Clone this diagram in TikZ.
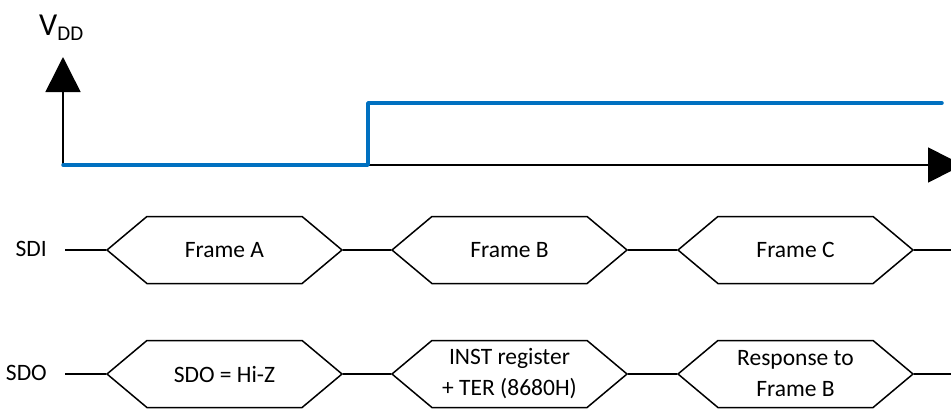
\documentclass[tikz,border=0pt]{standalone}
\usepackage{fontspec}
\setmainfont{Carlito}
\usetikzlibrary{arrows.meta,shapes.symbols}
\definecolor{vddblue}{RGB}{0,112,192}
\tikzset{
  frame/.style={shape=signal, signal to=east and west, signal pointer angle=80,
    draw=black, line width=1.5pt, minimum width=235pt, minimum height=67pt,
    inner sep=0pt, align=center, font=\fontsize{23.5}{31}\selectfont},
  wire/.style={line width=1.5pt},
  axis/.style={line width=1.5pt, -{Triangle[length=35pt,width=35pt]}},
  supply/.style={draw=vddblue, line width=3.5pt, line cap=round, line join=round},
  pin/.style={anchor=east, inner sep=0pt, font=\fontsize{23.5}{28}\selectfont}
}
\begin{document}
\begin{tikzpicture}[x=1pt,y=-1pt]
\useasboundingbox (0,0) rectangle (951,408);
% supply
\coordinate (o) at (63,165);
\coordinate (ytop) at (63,57);
\coordinate (xend) at (963,165);
\coordinate (on) at (368,103);
\coordinate (vend) at (942,103);
\draw[axis] (o) -- (ytop);
\draw[axis] (o) -- (xend);
\draw[supply] (o) -| (on) -- (vend);
\node[anchor=base west, inner sep=0pt] (vdd) at (39,35)
  {{\fontsize{32}{38}\selectfont V}{\fontsize{21}{25}\selectfont\raisebox{-5pt}{DD}}};

% SDI
\node[pin] (sdi) at (47,249) {SDI};
\coordinate (sdiin) at (65,250);
\coordinate (sdiout) at (951,250);
\node[frame] (sdiA) at (224.5,250) {Frame A};
\node[frame] (sdiB) at (509.5,250) {Frame B};
\node[frame] (sdiC) at (795.5,250) {Frame C};
\draw[wire] (sdiin) -- (sdiA.west);
\draw[wire] (sdiA.east) -- (sdiB.west);
\draw[wire] (sdiB.east) -- (sdiC.west);
\draw[wire] (sdiC.east) -- (sdiout);

% SDO
\node[pin] (sdo) at (47,373) {SDO};
\coordinate (sdoin) at (65,374);
\coordinate (sdoout) at (951,374);
\node[frame] (sdoA) at (224.5,374) {SDO = Hi-Z};
\node[frame] (sdoB) at (509.5,374) {INST register\\+ TER (8680H)};
\node[frame] (sdoC) at (795.5,374) {Response to\\Frame B};
\draw[wire] (sdoin) -- (sdoA.west);
\draw[wire] (sdoA.east) -- (sdoB.west);
\draw[wire] (sdoB.east) -- (sdoC.west);
\draw[wire] (sdoC.east) -- (sdoout);
\end{tikzpicture}
\end{document}
